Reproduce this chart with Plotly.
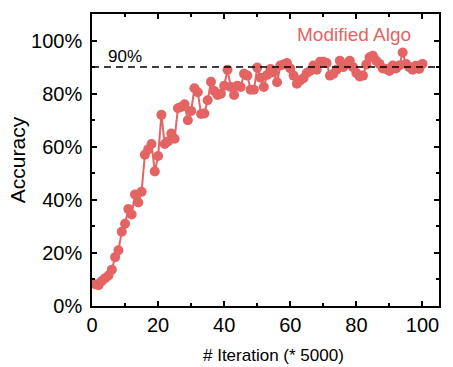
import plotly.graph_objects as go

# Accuracy (%) of the modified algorithm, sampled every 5000 iterations
iteration = list(range(1, 101))
accuracy = [
    8.2, 7.8, 9.4, 10.5, 11.5, 13.7, 18.4, 21.0, 28.0, 31.0,
    36.5, 34.5, 42.0, 39.0, 43.0, 57.0, 59.0, 61.0, 50.7, 56.5,
    72.0, 61.0, 62.0, 65.0, 63.0, 74.5, 75.0, 76.0, 70.0, 73.5,
    82.0, 80.5, 72.3, 72.5, 77.5, 84.5, 81.0, 79.5, 80.0, 83.0,
    89.0, 82.5, 79.5, 83.0, 82.5, 87.5, 86.8, 81.5, 81.5, 89.8,
    86.0, 82.5, 87.0, 89.3, 88.0, 84.3, 90.6, 91.0, 91.5, 89.5,
    86.8, 83.7, 85.0, 85.8, 87.8, 88.5, 90.6, 89.0, 92.0, 92.0,
    91.5, 86.8, 87.4, 89.0, 92.4, 90.0, 91.0, 92.4, 90.0, 87.8,
    86.5, 86.8, 91.0, 93.7, 94.3, 92.4, 91.2, 89.5, 89.3, 88.5,
    90.6, 89.5, 90.6, 95.5, 91.2, 90.0, 89.0, 90.5, 89.3, 91.2,
]
target = 90
series_name = "Modified Algo"
x_title = "# Iteration (* 5000)"
x_ticks = [0, 20, 40, 60, 80, 100]
y_ticks = [0, 20, 40, 60, 80, 100]
y_tick_labels = [f"{v}%" for v in y_ticks]

RED = "#e46464"
FONT = "Arial, Liberation Sans, sans-serif"

fig = go.Figure()
fig.add_trace(go.Scatter(
    x=iteration, y=accuracy, mode="lines+markers", name=series_name,
    line=dict(color=RED, width=2),
    marker=dict(color=RED, size=10),
    showlegend=False,
))

# Reference level
fig.add_shape(type="line", xref="paper", yref="y", x0=0, x1=1, y0=target, y1=target,
              line=dict(color="black", width=1.5, dash="7px,5px"))
fig.add_annotation(x=4.3, y=target, xanchor="left", yanchor="bottom", yshift=-1,
                   text=f"{target}%", showarrow=False,
                   font=dict(family=FONT, size=17, color="black"))
fig.add_annotation(x=79.4, y=102.3, text=series_name, showarrow=False,
                   font=dict(family=FONT, size=19, color=RED))

# x-axis title placed below the tick labels
fig.add_annotation(x=55, xref="x", y=0, yref="paper", yanchor="middle", yshift=-49,
                   text=x_title, showarrow=False,
                   font=dict(family=FONT, size=17, color="black"))

axis_common = dict(
    showline=True, linecolor="black", linewidth=1.5, mirror="allticks",
    ticks="inside", ticklen=5, tickwidth=1.5, tickcolor="black",
    showgrid=False, zeroline=False,
    tickfont=dict(family=FONT, size=20, color="black"),
    minor=dict(ticks="inside", ticklen=3, tickwidth=1.5, tickcolor="black",
               showgrid=False, dtick=10),
)

fig.update_xaxes(
    range=[0, 105], tickmode="array", tickvals=x_ticks, ticklabelstandoff=0,
    **axis_common,
)
fig.update_yaxes(
    range=[0, 110], tickmode="array", tickvals=y_ticks, ticktext=y_tick_labels,
    ticklabelstandoff=4,
    title=dict(text="Accuracy", font=dict(family=FONT, size=21, color="black"), standoff=0),
    **axis_common,
)

fig.update_layout(
    width=453, height=367,
    margin=dict(l=92, r=12, t=12, b=61),
    plot_bgcolor="white", paper_bgcolor="white",
)

fig.write_html("out.html")
